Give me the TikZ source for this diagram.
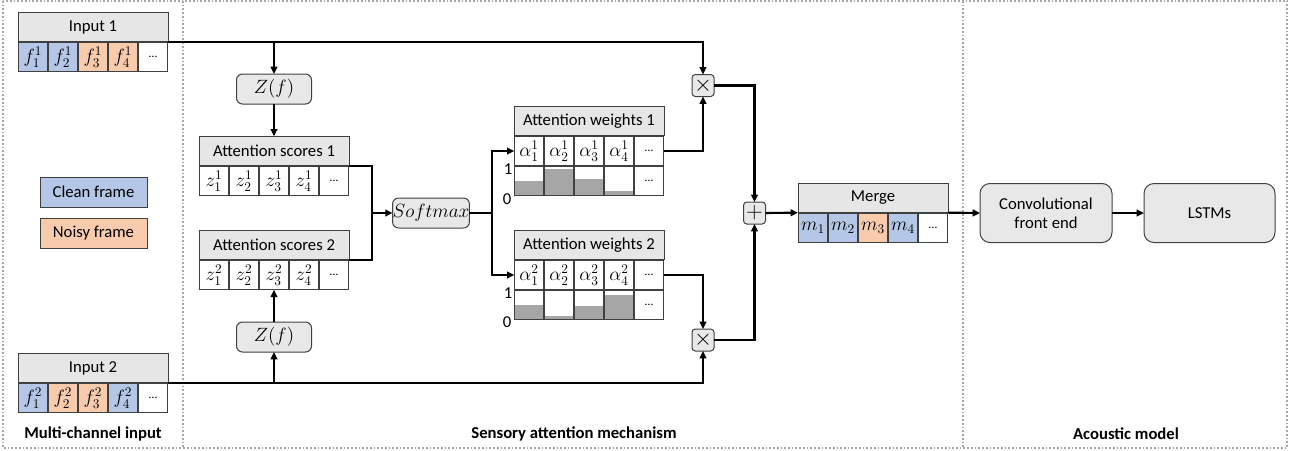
\documentclass[tikz,border=0pt]{standalone}
\usepackage{fontspec}
\setmainfont{Carlito}
\usetikzlibrary{arrows.meta}
\definecolor{blu}{HTML}{B4C7E7}
\definecolor{org}{HTML}{F8CBAD}
\definecolor{hdrc}{HTML}{E6E6E6}
\definecolor{rndc}{HTML}{E8E8E8}
\definecolor{bordc}{HTML}{404040}
\definecolor{barc}{HTML}{A6A6A6}
\definecolor{sepc}{HTML}{A6A6A6}
\begin{document}
\begin{tikzpicture}[x=0.75pt,y=-0.75pt,
  box/.style={draw=bordc, line width=0.75pt, inner sep=0pt, outer sep=0pt, font=\fontsize{12.5}{14}\selectfont},
  cell/.style={box, minimum width=22pt, minimum height=22pt, font=\fontsize{14}{16}\selectfont},
  hdr/.style={box, fill=hdrc, minimum width=112.5pt, minimum height=22pt},
  rbox/.style={box, fill=rndc, rounded corners=4.5pt, font=\fontsize{14}{16}\selectfont},
  bigbox/.style={box, fill=rndc, rounded corners=7.5pt, minimum height=44.25pt, align=center},
  op/.style={box, fill=rndc, rounded corners=2.5pt, minimum width=16.5pt, minimum height=16.5pt},
  legend/.style={box, minimum width=80.25pt, minimum height=22.5pt},
  dots/.style={font=\fontsize{9}{10}\selectfont},
  conn/.style={line width=1.6pt, draw=black},
  arr/.style={conn, -{Triangle[length=5.5pt,width=5pt]}},
  sep/.style={draw=sepc, line width=1pt, dash pattern=on 1.3pt off 1.5pt},
  scale01/.style={font=\fontsize{12.5}{14}\selectfont, inner sep=0pt},
  title/.style={font=\fontsize{12.5}{14}\selectfont\bfseries, inner sep=0pt},
]
\useasboundingbox (0,0) rectangle (1298,450);
% panels
\draw[sep] (3,1) rectangle (1287,448);
\draw[sep] (183,1) -- (183,448);
\draw[sep] (963,1) -- (963,448);
\node[title] (t1) at (93,434) {Multi-channel input};
\node[title] (t2) at (574,434) {Sensory attention mechanism};
\node[title] (t3) at (1126,434) {Acoustic model};

% Input 1
\node[hdr] (inAh) at (93,27) {Input 1};
\foreach \i/\c/\t in {1/blu/f_1^1,2/blu/f_2^1,3/org/f_3^1,4/org/f_4^1}
  {\node[cell,fill=\c] (inAc\i) at ({3+30*\i},57) {$\t$};}
\node[cell,dots] (inAc5) at (153,57) {…};
% Input 2
\node[hdr] (inBh) at (93,368) {Input 2};
\foreach \i/\c/\t in {1/blu/f_1^2,2/org/f_2^2,3/org/f_3^2,4/blu/f_4^2}
  {\node[cell,fill=\c] (inBc\i) at ({3+30*\i},398) {$\t$};}
\node[cell,dots] (inBc5) at (153,398) {…};

% legend
\node[legend,fill=blu] (lclean) at (93.5,192) {Clean frame};
\node[legend,fill=org] (lnoisy) at (93.5,233) {Noisy frame};

% Z(f)
\node[rbox, minimum width=56.25pt, minimum height=22.5pt] (zA) at (274,89) {$Z(f)$};
\node[rbox, minimum width=56.25pt, minimum height=22.5pt] (zB) at (274,337) {$Z(f)$};

% Attention scores
\node[hdr] (asAh) at (274,151) {Attention scores 1};
\foreach \i in {1,2,3,4}
  {\node[cell] (asAc\i) at ({184+30*\i},181) {$z_{\i}^1$};}
\node[cell,dots] (asAc5) at (334,181) {…};
\node[hdr] (asBh) at (274,245) {Attention scores 2};
\foreach \i in {1,2,3,4}
  {\node[cell] (asBc\i) at ({184+30*\i},275) {$z_{\i}^2$};}
\node[cell,dots] (asBc5) at (334,275) {…};

% Softmax
\node[rbox, minimum width=57pt, minimum height=22.5pt] (soft) at (431,213) {$Softmax$};
\coordinate (jn) at (372,213);
\coordinate (sp) at (492,213);

% Attention weights bars
\foreach \i/\t in {1/181,2/169,3/179,4/191}
  {\fill[barc] ({484+30*\i},196) rectangle ({514+30*\i},\t);}
\foreach \i/\t in {1/305,2/316,3/306,4/295}
  {\fill[barc] ({484+30*\i},320) rectangle ({514+30*\i},\t);}

% Attention weights 1
\node[hdr] (awAh) at (589,121) {Attention weights 1};
\foreach \i in {1,2,3,4}
  {\node[cell] (awAc\i) at ({499+30*\i},151) {$\alpha_{\i}^1$};
   \node[cell] (awAb\i) at ({499+30*\i},181) {};}
\node[cell,dots] (awAc5) at (649,151) {…};
\node[cell,dots] (awAb5) at (649,181) {…};
\node[scale01] (awA1) at (508,169) {1};
\node[scale01] (awA0) at (507,199) {0};
% Attention weights 2
\node[hdr] (awBh) at (589,245) {Attention weights 2};
\foreach \i in {1,2,3,4}
  {\node[cell] (awBc\i) at ({499+30*\i},275) {$\alpha_{\i}^2$};
   \node[cell] (awBb\i) at ({499+30*\i},305) {};}
\node[cell,dots] (awBc5) at (649,275) {…};
\node[cell,dots] (awBb5) at (649,305) {…};
\node[scale01] (awB1) at (508,293) {1};
\node[scale01] (awB0) at (507,322) {0};

% operators
\node[op] (mulA) at (703,85.5) {\fontsize{17}{17}\selectfont$\times$};
\node[op] (mulB) at (703,340) {\fontsize{17}{17}\selectfont$\times$};
\node[op] (plus) at (754.5,213) {\fontsize{19}{19}\selectfont$+$};

% Merge
\node[hdr] (mh) at (873,198) {Merge};
\foreach \i/\c in {1/blu,2/blu,3/org,4/blu}
  {\node[cell,fill=\c] (mc\i) at ({783+30*\i},228) {$m_{\i}$};}
\node[cell,dots] (mc5) at (933,228) {…};

% acoustic model
\node[bigbox, minimum width=99pt] (conv) at (1046,213) {Convolutional\\front end};
\node[bigbox, minimum width=98.25pt] (lstm) at (1209.5,213) {LSTMs};

% connectors
\draw[arr] (inAh.south east) -| (mulA.north);
\draw[arr] (zA.north |- inAh.south east) -- (zA.north);
\draw[arr] (zA.south) -- (asAh.north);
\draw[arr] (inBh.south east) -| (mulB.south);
\draw[arr] (zB.south |- inBh.south east) -- (zB.south);
\draw[arr] (zB.north) -- (asBc3.south);
\draw[conn] (asAh.south east) -| (jn);
\draw[conn] (asBh.south east) -| (jn);
\draw[arr] (jn) -- (soft.west);
\draw[conn] (soft.east) -- (sp);
\draw[arr] (sp) |- (awAc1.west);
\draw[arr] (sp) |- (awBc1.west);
\draw[arr] (awAc5.east) -| (mulA.south);
\draw[arr] (awBc5.east) -| (mulB.north);
\draw[arr] (mulA.east) -| (plus.north);
\draw[arr] (mulB.east) -| (plus.south);
\draw[arr] (plus.east) -- (mh.south west);
\draw[arr] (mh.south east) -- (conv.west);
\draw[arr] (conv.east) -- (lstm.west);
\end{tikzpicture}
\end{document}
